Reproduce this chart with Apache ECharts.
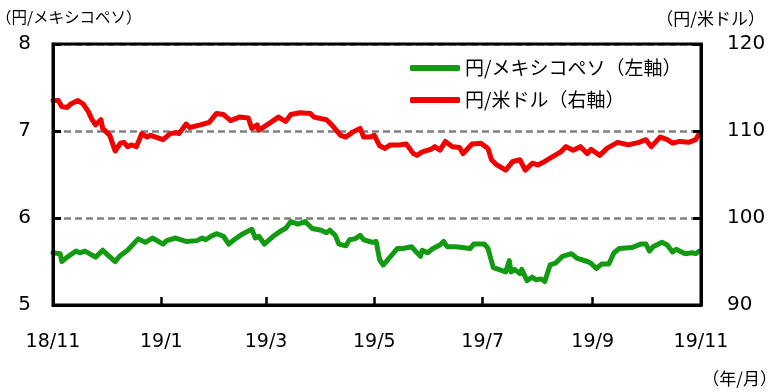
<!DOCTYPE html>
<html><head><meta charset="utf-8">
<script src="https://cdn.jsdelivr.net/npm/echarts@6/dist/echarts.min.js"></script>
<style>html,body{margin:0;padding:0;background:#fff}#c{width:779px;height:392px}</style>
</head><body><div id="c"></div>
<script>
// ---- data ----
const seriesNames = ['円/メキシコペソ（左軸）', '円/米ドル（右軸）'];

const mxnDates = ['2018-11-01','2018-11-05','2018-11-06','2018-11-09','2018-11-14','2018-11-16','2018-11-19','2018-11-25','2018-11-29','2018-12-02',
'2018-12-06','2018-12-09','2018-12-13','2018-12-19','2018-12-23','2018-12-27','2019-01-02','2019-01-04','2019-01-09','2019-01-15',
'2019-01-21','2019-01-24','2019-01-26','2019-01-29','2019-02-01','2019-02-05','2019-02-08','2019-02-11','2019-02-16','2019-02-21',
'2019-02-23','2019-02-25','2019-02-28','2019-03-05','2019-03-10','2019-03-12','2019-03-15','2019-03-19','2019-03-23','2019-03-27',
'2019-04-01','2019-04-04','2019-04-06','2019-04-09','2019-04-11','2019-04-15','2019-04-17','2019-04-20','2019-04-23','2019-04-25',
'2019-04-30','2019-05-02','2019-05-04','2019-05-06','2019-05-09','2019-05-10','2019-05-14','2019-05-17','2019-05-22','2019-05-25',
'2019-05-27','2019-05-28','2019-05-31','2019-06-03','2019-06-07','2019-06-09','2019-06-11','2019-06-16','2019-06-24','2019-06-26',
'2019-07-02','2019-07-04','2019-07-07','2019-07-10','2019-07-11','2019-07-14','2019-07-16','2019-07-17','2019-07-19','2019-07-22',
'2019-07-23','2019-07-26','2019-07-29','2019-07-31','2019-08-03','2019-08-05','2019-08-08','2019-08-11','2019-08-15','2019-08-20',
'2019-08-23','2019-08-29','2019-08-31','2019-09-03','2019-09-06','2019-09-10','2019-09-13','2019-09-16','2019-09-23','2019-09-28',
'2019-10-01','2019-10-03','2019-10-05','2019-10-10','2019-10-13','2019-10-16','2019-10-18','2019-10-23','2019-10-27','2019-10-29','2019-10-31'];
const mxnValues = [5.60,5.59,5.50,5.55,5.62,5.60,5.62,5.55,5.63,5.57,
5.50,5.57,5.63,5.76,5.72,5.77,5.70,5.74,5.77,5.73,
5.74,5.77,5.75,5.79,5.82,5.79,5.70,5.75,5.82,5.87,
5.77,5.79,5.70,5.79,5.86,5.88,5.96,5.93,5.96,5.88,
5.86,5.83,5.86,5.80,5.70,5.68,5.75,5.76,5.80,5.75,
5.72,5.73,5.52,5.46,5.53,5.51,5.65,5.65,5.67,5.60,
5.56,5.63,5.60,5.65,5.69,5.73,5.67,5.67,5.65,5.70,
5.70,5.65,5.43,5.41,5.43,5.38,5.51,5.38,5.41,5.36,
5.41,5.28,5.32,5.29,5.30,5.27,5.46,5.48,5.56,5.59,
5.54,5.50,5.48,5.42,5.47,5.47,5.60,5.65,5.66,5.70,
5.70,5.62,5.67,5.72,5.69,5.61,5.64,5.59,5.60,5.59,5.62];

const usdDates = ['2018-11-01','2018-11-04','2018-11-06','2018-11-09','2018-11-11','2018-11-15','2018-11-18','2018-11-21','2018-11-23','2018-11-25',
'2018-11-28','2018-11-29','2018-12-03','2018-12-06','2018-12-09','2018-12-11','2018-12-13','2018-12-15','2018-12-18','2018-12-21',
'2018-12-24','2018-12-26','2019-01-02','2019-01-06','2019-01-09','2019-01-11','2019-01-15','2019-01-17','2019-01-23','2019-01-28',
'2019-02-01','2019-02-05','2019-02-09','2019-02-14','2019-02-19','2019-02-21','2019-02-24','2019-02-25','2019-03-03','2019-03-08',
'2019-03-12','2019-03-15','2019-03-20','2019-03-26','2019-03-28','2019-04-04','2019-04-07','2019-04-12','2019-04-15','2019-04-19',
'2019-04-23','2019-04-25','2019-04-29','2019-05-01','2019-05-04','2019-05-07','2019-05-10','2019-05-15','2019-05-19','2019-05-23',
'2019-05-25','2019-05-28','2019-06-02','2019-06-04','2019-06-07','2019-06-10','2019-06-14','2019-06-18','2019-06-20','2019-06-25',
'2019-06-30','2019-07-04','2019-07-06','2019-07-09','2019-07-10','2019-07-14','2019-07-18','2019-07-22','2019-07-25','2019-07-29',
'2019-08-01','2019-08-05','2019-08-09','2019-08-14','2019-08-17','2019-08-21','2019-08-25','2019-08-29','2019-08-31','2019-09-05',
'2019-09-09','2019-09-15','2019-09-21','2019-09-27','2019-10-01','2019-10-04','2019-10-09','2019-10-13','2019-10-16','2019-10-20',
'2019-10-25','2019-10-29','2019-10-31'];
const usdValues = [113.5,113.5,112.8,112.7,113.1,113.5,113.1,112.2,111.3,110.7,
111.3,110.3,109.5,107.7,108.6,108.7,108.2,108.4,108.2,109.7,
109.3,109.5,109.0,109.7,109.8,109.7,110.8,110.4,110.7,111.0,
112.0,111.9,111.2,111.6,111.5,110.3,110.7,110.1,110.9,111.6,
111.1,111.9,112.1,112.0,111.6,111.3,110.7,109.5,109.3,109.9,
110.3,109.3,109.3,109.5,108.3,108.0,108.4,108.4,108.5,107.4,
107.2,107.6,107.9,108.2,107.8,108.8,108.2,108.1,107.4,108.5,
108.6,108.0,106.7,106.1,106.2,105.5,106.5,106.7,105.5,106.3,
106.1,106.5,107.0,107.6,108.2,107.8,108.2,107.4,107.9,107.2,
108.0,108.7,108.4,108.7,109.0,108.2,109.3,109.0,108.6,108.8,
108.7,109.0,109.7];

const xTickDates = ['2018-11-01','2019-01-01','2019-03-01','2019-05-01','2019-07-01','2019-09-01','2019-11-01'];
const xTickLabels = ['18/11','19/1','19/3','19/5','19/7','19/9','19/11'];
const leftAxis = {min: 5, max: 8, interval: 1};
const rightAxis = {min: 90, max: 120, interval: 10};
const unitLeft = '（円/メキシコペソ）';
const unitRight = '（円/米ドル）';
const unitX = '（年/月）';

// ---- chart ----
const P = s => echarts.number.parseDate(s).getTime();
const tickVals = xTickDates.map(P);
const numFont = 'DejaVu Sans';
const jpFont = 'Noto Sans CJK JP';
const black = '#000';

const chart = echarts.init(document.getElementById('c'), null, {renderer: 'canvas'});
chart.setOption({
  animation: false,
  grid: {left: 53, right: 78, top: 44, bottom: 87, show: true, borderColor: black, borderWidth: 3, z: 5},
  legend: {
    orient: 'vertical', left: 405, top: 52, itemWidth: 50, itemHeight: 6, itemGap: 10,
    icon: 'roundRect',
    textStyle: {fontSize: 19, lineHeight: 22, fontFamily: jpFont, color: black},
    data: seriesNames
  },
  xAxis: {
    type: 'value', min: tickVals[0], max: tickVals[tickVals.length - 1], z: 6,
    axisLine: {show: true, lineStyle: {color: black, width: 3}},
    axisTick: {show: true, inside: true, length: 8, lineStyle: {color: black, width: 2.5}, customValues: tickVals},
    axisLabel: {
      show: true, customValues: tickVals, margin: 28, fontSize: 19, color: black, fontFamily: numFont,
      formatter: v => { for (let i = 0; i < tickVals.length; i++) { if (Math.abs(tickVals[i] - v) < 86400000) return xTickLabels[i]; } return ''; }
    },
    splitLine: {show: false}
  },
  yAxis: [{
    type: 'value', position: 'left', min: leftAxis.min, max: leftAxis.max, interval: leftAxis.interval, z: 6,
    axisLine: {show: true, lineStyle: {color: black, width: 3}},
    axisTick: {show: true, inside: true, length: 8, lineStyle: {color: black, width: 3}},
    axisLabel: {show: true, margin: 22, fontSize: 20, color: black, fontFamily: numFont},
    splitLine: {show: false}
  }, {
    type: 'value', position: 'right', min: rightAxis.min, max: rightAxis.max, interval: rightAxis.interval, z: 6,
    axisLine: {show: true, lineStyle: {color: black, width: 3}},
    axisTick: {show: true, inside: true, length: 8, lineStyle: {color: black, width: 3}},
    axisLabel: {show: true, margin: 26, fontSize: 20, color: black, fontFamily: numFont},
    splitLine: {show: false}
  }, {
    // grid lines only (drawn beneath the tick marks)
    type: 'value', position: 'left', min: leftAxis.min, max: leftAxis.max, interval: leftAxis.interval, z: 0,
    axisLine: {show: false}, axisTick: {show: false}, axisLabel: {show: false},
    splitLine: {show: true, lineStyle: {color: '#808080', width: 2.5, type: [7, 4]}}
  }],
  series: [{
    name: seriesNames[0], type: 'line', yAxisIndex: 0, showSymbol: false, symbol: 'none',
    color: '#129a12',
    lineStyle: {width: 5, color: '#129a12', cap: 'round', join: 'round'},
    data: mxnDates.map((d, i) => [P(d), mxnValues[i]])
  }, {
    name: seriesNames[1], type: 'line', yAxisIndex: 1, showSymbol: false, symbol: 'none',
    color: '#f20000',
    lineStyle: {width: 5, color: '#f20000', cap: 'round', join: 'round'},
    data: usdDates.map((d, i) => [P(d), usdValues[i]])
  }],
  graphic: [
    {type: 'text', left: -4, top: 9, style: {text: unitLeft, fontSize: 15.5, fontFamily: jpFont, fill: black}},
    {type: 'text', right: 14, top: 10, style: {text: unitRight, fontSize: 17, fontFamily: jpFont, fill: black}},
    {type: 'text', right: 2, top: 370, style: {text: unitX, fontSize: 17, fontFamily: jpFont, fill: black}}
  ]
});
</script>
</body></html>
